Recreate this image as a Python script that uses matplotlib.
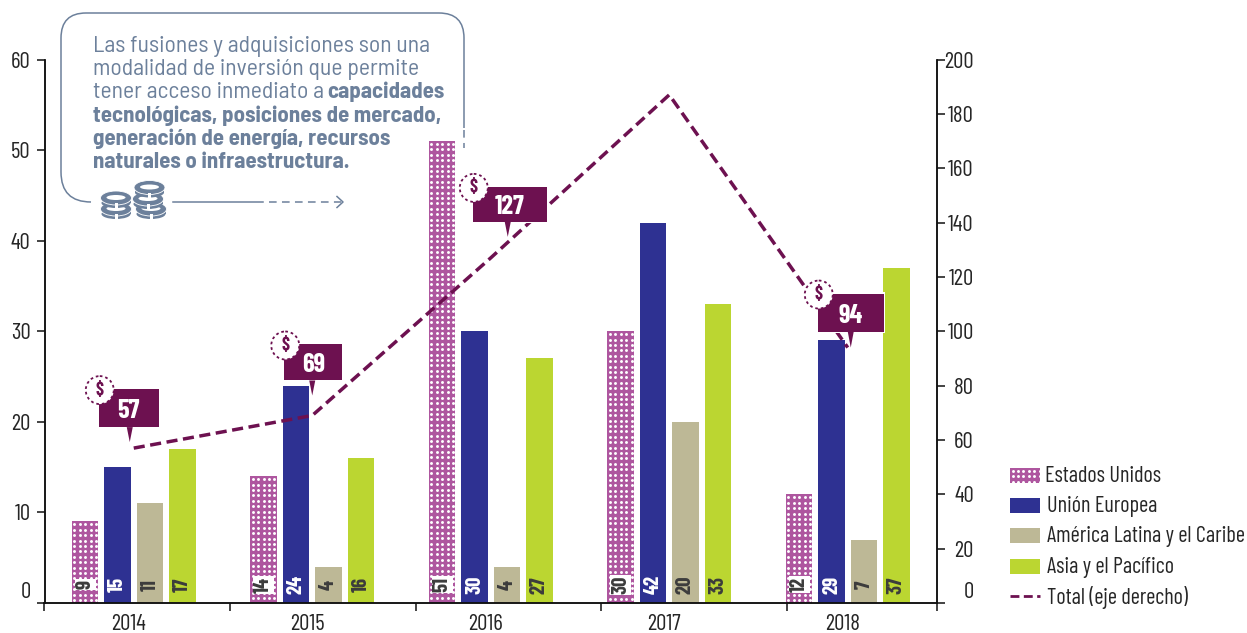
#!/usr/bin/env python3
# fusiones y adquisiciones por region, 2014-2018 (barras) y total en eje derecho (linea)

import numpy as np
import matplotlib
matplotlib.use("Agg")
import matplotlib.pyplot as plt
from matplotlib.patches import Ellipse, Polygon, Rectangle, Circle
from matplotlib.path import Path
from matplotlib.patches import PathPatch
from matplotlib.transforms import IdentityTransform

anios = ["2014", "2015", "2016", "2017", "2018"]
estados_unidos = [9, 14, 51, 30, 12]
union_europea = [15, 24, 30, 42, 29]
america_latina = [11, 4, 4, 20, 7]
asia_pacifico = [17, 16, 27, 33, 37]
total = [57, 69, 127, 187, 94]

ticks_izq = [0, 10, 20, 30, 40, 50, 60]
ticks_der = list(range(0, 201, 20))
cortes_x = [-0.5, 0.54, 1.58, 2.62, 3.66, 4.5]

VIOLETA = "#AE569F"
AZUL = "#2E3192"
KAKI = "#BDB896"
VERDE = "#BBD631"
VINO = "#6D1150"
PIZARRA = "#6C809B"
TEXTO = "#262626"
OSCURO = "#3C3C3C"

ANGOSTA = ["Barlow Condensed", "Liberation Sans", "DejaVu Sans"]
MEDIA = ["Barlow Semi Condensed", "Liberation Sans", "DejaVu Sans"]
plt.rcParams["font.family"] = ANGOSTA

W, H = 1247, 633
fig = plt.figure(figsize=(W / 100, H / 100), dpi=100, facecolor="white")
ax = fig.add_axes([44.5 / W, 1 - 603 / H, (937 - 44.5) / W, (603 - 59.5) / H])
ax.set_xlim(-0.5, 4.5)
ax.set_ylim(0, 60)
ax2 = ax.twinx()
ax2.set_ylim(0, 200)

# capa en pixeles para la nota, las llamadas y la leyenda
capa = fig.add_axes([0, 0, 1, 1], zorder=10)
capa.set_xlim(0, W)
capa.set_ylim(H, 0)
capa.axis("off")
capa.patch.set_alpha(0)


def puntos(parche, zorder=3):
    # retícula de puntos blancos recortada al rectangulo
    x0, y0, x1, y1 = parche.get_window_extent().extents
    xs = np.arange(x0 + 2.5, x1, 5.4)
    ys = np.arange(y1 - 3, y0, -5.4)
    gx, gy = np.meshgrid(xs, ys)
    ln, = parche.axes.plot(gx.ravel(), gy.ravel(), "o", color="white", ms=2.1, mew=0,
                           transform=IdentityTransform(), zorder=zorder)
    ln.set_clip_path(parche)


series = [estados_unidos, union_europea, america_latina, asia_pacifico]
colores = [VIOLETA, AZUL, KAKI, VERDE]
desp = [-1.5, -0.5, 0.5, 1.5]
paso = 32.4 / 178.5
ancho = 26.5 / 178.5
x = np.arange(len(anios))

for vals, col, d in zip(series, colores, desp):
    barras = ax.bar(x + d * paso, vals, ancho, color=col, zorder=2)
    for b, v in zip(barras, vals):
        cx = b.get_x() + b.get_width() / 2
        if col == VIOLETA:
            puntos(b)
            ax.text(cx, 2.0, str(v), rotation=90, ha="center", va="center", fontsize=15,
                    fontweight="bold", color=OSCURO, zorder=4,
                    bbox=dict(fc="white", ec="none", pad=0.8))
        else:
            c_txt = "white" if col == AZUL else OSCURO
            ax.text(cx, 2.0, str(v), rotation=90, ha="center", va="center", fontsize=15,
                    fontweight="bold", color=c_txt, zorder=4)

ax2.plot(x, total, color=VINO, lw=2.5, linestyle=(0, (3.2, 1.6)), zorder=5,
         dash_joinstyle="miter")
ax2.set_zorder(ax.get_zorder() + 1)
ax2.patch.set_visible(False)

# ejes
for a in (ax, ax2):
    a.spines["top"].set_visible(False)
    for s in ("left", "right", "bottom"):
        a.spines[s].set_linewidth(1.1)
        a.spines[s].set_color("#111111")
ax.set_xticks(cortes_x)
ax.set_xticklabels([])
ax.tick_params(axis="x", length=5.5, width=1.1, color="#111111")
ax.set_yticks(ticks_izq)
ax.tick_params(axis="y", length=5.5, width=1.1, pad=4.5, labelsize=16.5, labelcolor=TEXTO,
               color="#111111")
ax2.set_yticks(ticks_der)
ax2.tick_params(axis="y", length=5.5, width=1.1, pad=21, labelsize=16.5, labelcolor=TEXTO,
                color="#111111")
for t in ax2.get_yticklabels():
    t.set_ha("right")
ax.get_yticklabels()[0].set_va("bottom")
ax2.get_yticklabels()[0].set_va("bottom")
for i, a in enumerate(anios):
    ax.annotate(a, (i, 0), xytext=(-5, -21), textcoords="offset pixels", ha="center", va="center",
                fontsize=16.5, color=TEXTO, annotation_clip=False)


def a_pixel(i, v):
    return capa.transData.inverted().transform(ax2.transData.transform((i, v)))


# llamadas con el total: indice, punta respecto a la linea y caja respecto a la punta
llamadas = [
    (0, (-4, -6), (-31, 29, -53, -15)),
    (1, (0, -20), (-28, 30, -51, -15)),
    (2, (17, -21), (-35, 39, -50, -15)),
    (4, (3, 0), (-33, 33, -54, -16)),
]
for i, punta, caja in llamadas:
    px, py = a_pixel(i, total[i])
    tx, ty = px + punta[0], py + punta[1]
    x0, x1, y0, y1 = tx + caja[0], tx + caja[1], ty + caja[2], ty + caja[3]
    capa.add_patch(Rectangle((x0 - 1.5, y0 - 1.5), x1 - x0 + 3, y1 - y0 + 3, fc="white", ec="none", zorder=1))
    capa.add_patch(Rectangle((x0, y0), x1 - x0, y1 - y0, fc=VINO, ec="none", zorder=2))
    capa.add_patch(Polygon([(tx - 3, y1), (tx + 3, y1), (tx, ty)], fc=VINO, ec="none", zorder=2))
    capa.text((x0 + x1) / 2, (y0 + y1) / 2 + 3, str(total[i]), color="white", ha="center", va="center",
              fontsize=19, fontweight="bold", zorder=3)
    capa.add_patch(Circle((x0 + 1, y0 + 1), 14, fc="white", ec=VINO, lw=1.3, linestyle=(0, (1.5, 1.6)), zorder=4))
    capa.text(x0 + 1, y0 + 2, "$", color=VINO, ha="center", va="center", fontsize=13,
              fontweight="bold", zorder=5)

# recuadro de la nota
k = Path.CURVE3
verts = [(91, 202), (61, 202), (61, 172), (61, 38), (61, 13), (86, 13),
         (439, 13), (464, 13), (464, 38), (464, 128)]
codes = [Path.MOVETO, k, k, Path.LINETO, k, k, Path.LINETO, k, k, Path.LINETO]
capa.add_patch(PathPatch(Path(verts, codes), fc="none", ec=PIZARRA, lw=1.1))
capa.plot([464, 464], [130, 148], color=PIZARRA, lw=1.1, linestyle=(0, (5, 3.5)))
capa.plot([173, 263], [202, 202], color=PIZARRA, lw=1.1)
capa.plot([269, 341], [202, 202], color=PIZARRA, lw=1.1, linestyle=(0, (5, 3.5)))
capa.plot([337, 343, 337], [196.5, 202, 207.5], color=PIZARRA, lw=1.1)

lineas = [
    ("Las fusiones y adquisiciones son una", "normal", 17),
    ("modalidad de inversión que permite", "normal", 17),
    ("tener acceso inmediato a", "normal", 17),
    ("tecnológicas, posiciones de mercado,", "bold", 16.5),
    ("generación de energía, recursos", "bold", 16.5),
    ("naturales o infraestructura.", "bold", 16.5),
]
for n, (linea, peso, tam) in enumerate(lineas):
    capa.text(93, 52 + n * 23.2, linea, color=PIZARRA, fontsize=tam, fontweight=peso, ha="left", va="baseline",
              family=MEDIA)
capa.text(327, 52 + 2 * 23.2, "capacidades", color=PIZARRA, fontsize=16.5, fontweight="bold", ha="left",
          va="baseline", family=MEDIA)

# monedas
for cx, cy in [(116, 210), (116, 199), (151, 210), (148, 200), (149.5, 188.5)]:
    capa.add_patch(Rectangle((cx - 14.5, cy - 1), 29, 5, fc=PIZARRA, ec="none", zorder=3))
    capa.add_patch(Ellipse((cx, cy + 4), 29, 10, fc=PIZARRA, ec="none", zorder=3))
    capa.add_patch(Ellipse((cx, cy - 1), 31, 14, fc=PIZARRA, ec="white", lw=0.6, zorder=3))
    capa.add_patch(Ellipse((cx, cy - 1.5), 19, 5, fc="white", ec="none", zorder=3))
    capa.add_patch(Rectangle((cx - 1.5, cy + 4), 3, 5, fc="white", ec="none", zorder=3))

# leyenda
nombres = ["Estados Unidos", "Unión Europea", "América Latina y el Caribe", "Asia y el Pacífico", "Total (eje derecho)"]
for n, nombre in enumerate(nombres):
    yc = 475.5 + n * 30.2
    if n < 4:
        r = Rectangle((1010, yc - 7.5), 30, 15, fc=colores[n], ec="none")
        capa.add_patch(r)
        if n == 0:
            puntos(r, zorder=4)
    else:
        capa.plot([1010, 1040], [yc, yc], color=VINO, lw=2, linestyle=(0, (3.2, 1.6)))
    capa.text(1047 if n else 1045, yc + 1, nombre, color=TEXTO, fontsize=16, ha="left", va="center")

fig.savefig("out.png", dpi=100)
